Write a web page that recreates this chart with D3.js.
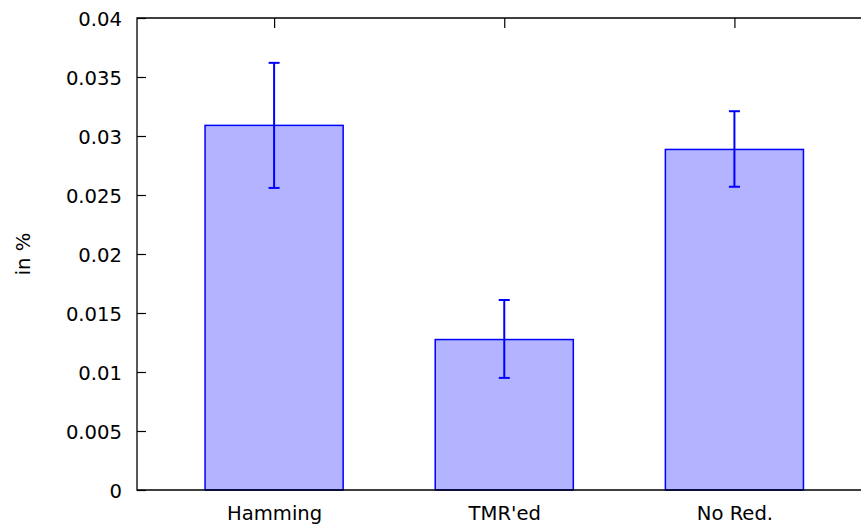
<!DOCTYPE html>
<html><head><meta charset="utf-8">
<script src="https://cdn.jsdelivr.net/npm/d3@7"></script>
<style>body{margin:0;background:#fff}svg{display:block}text{font-family:"DejaVu Sans",sans-serif;font-size:19.6px;fill:#000}</style>
</head><body><svg id="c" width="861" height="525"></svg>
<script>
const categories = ["Hamming", "TMR'ed", "No Red."];
const values = [0.0309, 0.01275, 0.02886];
const errLow = [0.0256, 0.0095, 0.0257];
const errHigh = [0.0362, 0.0161, 0.0321];
const yTicks = [0, 0.005, 0.01, 0.015, 0.02, 0.025, 0.03, 0.035, 0.04];
const yTickLabels = ["0", "0.005", "0.01", "0.015", "0.02", "0.025", "0.03", "0.035", "0.04"];

const svg = d3.select("#c");
const pL = 137, pR = 861, pT = 18, pB = 490;
const x = d3.scaleLinear().domain([-0.5957, 2.55]).range([pL, pR]);
const y = d3.scaleLinear().domain([0, 0.04]).range([pB, pT]);
const barW = x(0.6) - x(0);
const blue = "#0000ff";
const FS = 19.6;

// bars
svg.selectAll("rect.bar").data(values).enter().append("rect")
  .attr("x", (d, i) => x(i) - barW / 2).attr("width", barW)
  .attr("y", d => y(d)).attr("height", d => y(0) - y(d))
  .attr("fill", "#b3b3ff").attr("stroke", blue).attr("stroke-width", 1.5);

// error bars
const eb = svg.selectAll("g.eb").data(categories).enter().append("g");
eb.append("line").attr("x1", (d, i) => x(i)).attr("x2", (d, i) => x(i))
  .attr("y1", (d, i) => y(errLow[i])).attr("y2", (d, i) => y(errHigh[i]))
  .attr("stroke", blue).attr("stroke-width", 2);
[errLow, errHigh].forEach(arr => {
  eb.append("line").attr("x1", (d, i) => x(i) - 5.5).attr("x2", (d, i) => x(i) + 5.5)
    .attr("y1", (d, i) => y(arr[i])).attr("y2", (d, i) => y(arr[i]))
    .attr("stroke", blue).attr("stroke-width", 2);
});

// frame
const frame = svg.append("g").attr("stroke", "#000").attr("stroke-width", 1.3).attr("fill", "none");
frame.append("path").attr("d", `M${pR},${pT}H${pL}V${pB}H${pR}`);

// y axis
const yAxis = d3.axisLeft(y).tickValues(yTicks).tickFormat((d, i) => yTickLabels[i]).tickSizeInner(-9).tickSizeOuter(0).tickPadding(15);
const gy = svg.append("g").attr("transform", `translate(${pL},0)`).call(yAxis);
gy.select(".domain").remove();
gy.selectAll("line").attr("stroke", "#000").attr("stroke-width", 1.2);
gy.selectAll("text").attr("font-size", FS).attr("font-family", "DejaVu Sans, sans-serif").attr("fill", "#000").attr("dy", "0.36em");

// x axis labels (bottom)
const xAxis = d3.axisBottom(x).tickValues([0, 1, 2]).tickFormat((d) => categories[d]).tickSize(0).tickPadding(16);
const gx = svg.append("g").attr("transform", `translate(0,${pB})`).call(xAxis);
gx.select(".domain").remove();
gx.selectAll("text").attr("font-size", FS).attr("font-family", "DejaVu Sans, sans-serif").attr("fill", "#000");

// top ticks (mirror)
const xTop = d3.axisBottom(x).tickValues([0, 1, 2]).tickFormat("").tickSizeInner(10).tickSizeOuter(0);
const gt = svg.append("g").attr("transform", `translate(0,${pT})`).call(xTop);
gt.select(".domain").remove();
gt.selectAll("line").attr("stroke", "#000").attr("stroke-width", 1.2);

// y label
svg.append("text").attr("transform", `translate(30,${(pT + pB) / 2}) rotate(-90)`)
  .attr("text-anchor", "middle").attr("font-size", FS).text("in %");
</script></body></html>
